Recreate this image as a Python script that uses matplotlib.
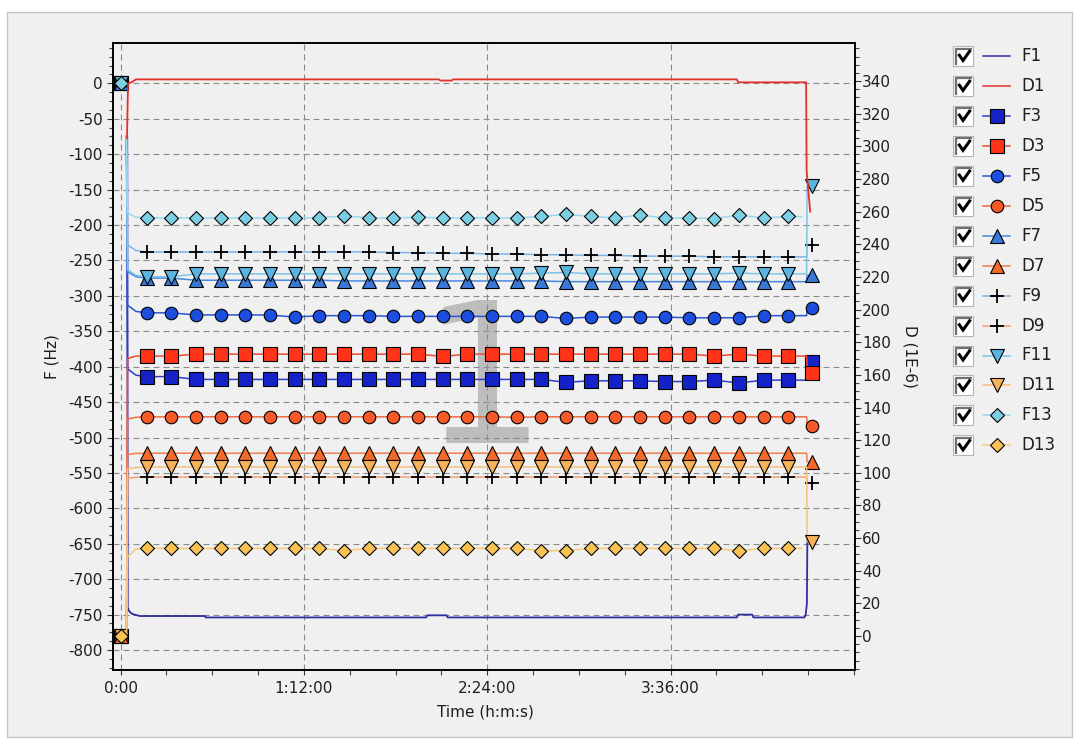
import matplotlib
matplotlib.use("Agg")
import matplotlib.pyplot as plt
from matplotlib.ticker import MultipleLocator, FuncFormatter
from matplotlib.patches import Rectangle

plt.rcParams["font.family"] = ["DejaVu Sans"]
plt.rcParams["axes.unicode_minus"] = False
plt.rcParams["lines.scale_dashes"] = False

W, H, DPI = 1077, 742, 100

# ---------------- time base (minutes) ----------------
T_START = 0.0
T_RISE = [2.3, 2.7, 6.0]
T_MARK = [10.2, 19.9, 29.6, 39.3, 48.9, 58.6, 68.3, 78.0, 87.7, 97.4,
          107.1, 116.8, 126.5, 136.2, 145.9, 155.6, 165.2, 174.9, 184.6, 194.3,
          204.0, 213.7, 223.4, 233.1, 242.8, 252.5, 262.1]
T_HOLD = 269.4
T_JUMP = 269.6
T_FINAL = 271.5
T_EARLY_END = 267.5
X_TICKS = [0, 72, 144, 216]

START_F = 0.0
START_D = 0.0

# ---------------- F1 / D1 (no markers) ----------------
F1_T = [2.6, 2.8, 3.3, 4.5, 7.5, 33.0, 33.4, 120.0, 120.4, 128.0, 128.4,
        242.0, 242.5, 248.0, 248.5, 268.5, 269.0, 269.5, 269.7]
F1_V = [-75, -740, -745, -749, -752, -752, -754, -754, -751, -751, -754,
        -754, -750, -750, -754, -754, -751, -735, -642]

D1_T = [2.5, 2.9, 4.5, 6.0, 125.0, 125.5, 130.0, 130.5, 242.0, 242.5, 269.2, 269.4, 270.8]
D1_V = [305, 338.5, 339.5, 341, 341, 340.3, 340.3, 341, 341, 339.2, 339.2, 285, 260]

# ---------------- frequency shifts (Hz) ----------------
F3_RISE = [-75, -403, -412]
F3_MARK = [-414, -414, -418, -418, -418, -418, -418, -418, -418, -418,
           -418, -418, -418, -418, -418, -418, -418, -422, -420, -420,
           -420, -421, -421, -419, -423, -419, -419]
F3_FINAL = -393

F5_RISE = [-75, -313, -322]
F5_MARK = [-324, -324, -327, -327, -327, -327, -330, -328, -328, -328,
           -329, -329, -329, -329, -329, -329, -329, -332, -330, -330,
           -330, -330, -331, -331, -331, -328, -328]
F5_FINAL = -317

F7_RISE = [-75, -266, -273]
F7_MARK = [-275, -275, -278, -278, -278, -278, -278, -278, -279, -279,
           -279, -279, -279, -279, -279, -279, -279, -280, -280, -280,
           -280, -280, -280, -280, -280, -280, -280]
F7_FINAL = -271

F9_RISE = [-75, -228, -236]
F9_MARK = [-238, -238, -238, -238, -238, -238, -238, -238, -238, -238,
           -239, -239, -240, -240, -241, -241, -242, -242, -243, -243,
           -244, -244, -244, -245, -245, -245, -245]
F9_FINAL = -228

F11_RISE = [-75, -263, -271]
F11_MARK = [-273, -273, -269, -269, -269, -269, -269, -269, -269, -269,
            -269, -269, -269, -269, -269, -269, -268, -267, -269, -269,
            -269, -269, -269, -269, -268, -269, -269]
F11_FINAL = -145

F13_RISE = [-75, -183, -189]
F13_MARK = [-190, -190, -190, -190, -190, -190, -190, -190, -187, -190,
            -190, -189, -190, -190, -190, -190, -188, -185, -188, -190,
            -186, -190, -190, -191, -186, -190, -188]
F13_FINAL = None

# ---------------- dissipation (1E-6) ----------------
D3_RISE = [0, 170.0, 171.5]
D3_MARK = [171.5, 171.5, 172.7, 172.7, 172.7, 172.7, 172.7, 172.7, 172.7, 172.7,
           172.7, 172.7, 171.3, 172.7, 172.7, 172.7, 172.7, 172.7, 172.7, 172.7,
           172.7, 172.7, 172.7, 171.5, 172.7, 171.5, 171.5]
D3_FINAL = 161.0

D5_RISE = [0, 133.0, 134.0]
D5_MARK = [134.3, 134.3, 134.3, 134.3, 134.3, 134.3, 134.3, 134.3, 134.3, 134.3,
           134.3, 134.3, 134.3, 134.3, 134.3, 134.0, 134.3, 134.3, 134.3, 134.3,
           134.3, 134.3, 134.3, 134.3, 134.3, 134.3, 134.3]
D5_FINAL = 128.8

D7_RISE = [0, 111.2, 111.9]
D7_MARK = [112.0, 112.0, 112.0, 112.0, 112.0, 112.0, 112.0, 112.0, 112.0, 112.0,
           112.0, 112.0, 112.0, 112.0, 112.0, 112.0, 112.0, 112.0, 112.0, 112.0,
           112.0, 112.0, 112.0, 112.0, 112.0, 112.0, 112.0]
D7_FINAL = 106.7

D9_RISE = [0, 96.5, 97.3]
D9_MARK = [97.4, 97.4, 97.4, 97.4, 97.4, 97.4, 97.4, 97.4, 97.4, 97.4,
           97.4, 97.4, 97.4, 97.4, 97.4, 97.4, 97.4, 97.4, 97.4, 97.4,
           97.4, 97.4, 97.4, 97.4, 97.4, 97.4, 97.4]
D9_FINAL = 93.6

D11_RISE = [0, 102.5, 103.3]
D11_MARK = [103.6, 103.6, 103.6, 103.6, 103.6, 103.6, 103.6, 103.6, 103.6, 103.6,
            103.6, 103.6, 103.6, 103.6, 103.6, 103.6, 103.6, 103.6, 103.6, 103.6,
            103.6, 103.6, 103.6, 103.6, 103.6, 103.6, 103.6]
D11_FINAL = 57.7

D13_RISE = [0, 48.5, 53.3]
D13_MARK = [53.7, 53.7, 53.7, 53.7, 53.7, 53.7, 53.7, 53.7, 52.3, 53.7,
            53.7, 53.7, 53.7, 53.7, 53.7, 53.7, 52.3, 52.3, 53.7, 53.7,
            53.7, 53.7, 53.7, 53.7, 52.3, 53.7, 53.7]
D13_FINAL = None

# ---------------- styles ----------------
STYLE = {
    "F1":  dict(marker=None, face=None,      line="#2e2e9e"),
    "D1":  dict(marker=None, face=None,      line="#e3302a"),
    "F3":  dict(marker="s",  face="#1422c8", line="#2a3fd0"),
    "D3":  dict(marker="s",  face="#ff3418", line="#f04a30"),
    "F5":  dict(marker="o",  face="#1c4ee0", line="#2c55d8"),
    "D5":  dict(marker="o",  face="#f55a28", line="#ef6a45"),
    "F7":  dict(marker="^",  face="#3a78d8", line="#4a86dc"),
    "D7":  dict(marker="^",  face="#f56a2a", line="#f08050"),
    "F9":  dict(marker="+",  face="black",   line="#80b4e8"),
    "D9":  dict(marker="+",  face="black",   line="#f2a078"),
    "F11": dict(marker="v",  face="#5ab4e0", line="#7cc4ea"),
    "D11": dict(marker="v",  face="#f5b25a", line="#f7c07a"),
    "F13": dict(marker="D",  face="#7ccfe2", line="#98d8f0"),
    "D13": dict(marker="D",  face="#f8c255", line="#f8c878"),
}
MSIZE = {"s": 10.5, "o": 9.0, "^": 10.0, "v": 10.0, "+": 10.0, "D": 7.2}
LEGEND_ORDER = ["F1", "D1", "F3", "D3", "F5", "D5", "F7", "D7",
                "F9", "D9", "F11", "D11", "F13", "D13"]


def marker_kw(name):
    st = STYLE[name]
    m = st["marker"]
    if m == "+":
        return dict(marker="+", ms=MSIZE[m], mec="black", mew=1.3)
    return dict(marker=m, ms=MSIZE[m], mfc=st["face"], mec="black", mew=0.8)


def draw_series(axis, name, rise, mark, final, start, z):
    st = STYLE[name]
    if final is None:
        lx = T_RISE + T_MARK + [T_EARLY_END]
        ly = rise + mark + [mark[-1]]
        mx = [T_START] + T_MARK
        my = [start] + mark
    else:
        lx = T_RISE + T_MARK + [T_HOLD, T_JUMP, T_FINAL]
        ly = rise + mark + [mark[-1], final, final]
        mx = [T_START] + T_MARK + [T_FINAL]
        my = [start] + mark + [final]
    axis.plot(lx, ly, color=st["line"], lw=1.1, zorder=z)
    axis.plot(mx, my, ls="none", zorder=z + 0.005, **marker_kw(name))


fig = plt.figure(figsize=(W / DPI, H / DPI), dpi=DPI, facecolor="white")

# grey panel behind the chart
fig.patches.append(Rectangle((7 / W, 1 - 737 / H), (1072 - 7) / W, (737 - 12) / H,
                             transform=fig.transFigure, facecolor="#f0f0f0",
                             edgecolor="#c4c4c4", lw=1.0, zorder=-10))

ax_l, ax_r, ax_t, ax_b = 113, 855, 43, 670
ax = fig.add_axes([ax_l / W, 1 - ax_b / H, (ax_r - ax_l) / W, (ax_b - ax_t) / H])
ax.set_facecolor("#f0f0f0")
ax.set_axisbelow(True)
ax2 = ax.twinx()

# frequency traces (left axis)
ax.plot(F1_T, F1_V, color=STYLE["F1"]["line"], lw=1.3, zorder=2.0)
f_series = [("F3", F3_RISE, F3_MARK, F3_FINAL), ("F5", F5_RISE, F5_MARK, F5_FINAL),
            ("F7", F7_RISE, F7_MARK, F7_FINAL), ("F9", F9_RISE, F9_MARK, F9_FINAL),
            ("F11", F11_RISE, F11_MARK, F11_FINAL), ("F13", F13_RISE, F13_MARK, F13_FINAL)]
for i, (n, r, m, f) in enumerate(f_series):
    draw_series(ax, n, r, m, f, START_F, 2.01 + 0.01 * i)

# dissipation traces (right axis)
ax2.plot(D1_T, D1_V, color=STYLE["D1"]["line"], lw=1.3, zorder=2.0)
d_series = [("D3", D3_RISE, D3_MARK, D3_FINAL), ("D5", D5_RISE, D5_MARK, D5_FINAL),
            ("D7", D7_RISE, D7_MARK, D7_FINAL), ("D9", D9_RISE, D9_MARK, D9_FINAL),
            ("D11", D11_RISE, D11_MARK, D11_FINAL), ("D13", D13_RISE, D13_MARK, D13_FINAL)]
for i, (n, r, m, f) in enumerate(d_series):
    draw_series(ax2, n, r, m, f, START_D, 2.01 + 0.01 * i)

# axis ranges and ticks
ax.set_xlim(-3.0, 288.4)
ax.set_ylim(-828.2, 56.9)
ax2.set_ylim(-20.8, 363.3)

ax.set_yticks(list(range(-800, 1, 50)))
ax.yaxis.set_minor_locator(MultipleLocator(12.5))
ax2.set_yticks(list(range(0, 341, 20)))
ax2.yaxis.set_minor_locator(MultipleLocator(5))
ax.set_xticks(X_TICKS)
ax.xaxis.set_minor_locator(MultipleLocator(18))


def hms(v, pos=None):
    total = int(round(v * 60))
    h, rem = divmod(total, 3600)
    m, s = divmod(rem, 60)
    if total == 0:
        return "0:00"
    return f"{h}:{m:02d}:{s:02d}"


ax.xaxis.set_major_formatter(FuncFormatter(hms))

tick_col = "#1e1e1e"
ax.tick_params(axis="y", which="major", direction="out", length=4.6, width=0.8,
               pad=2.6, labelsize=11, labelcolor=tick_col, color="#333333")
ax.tick_params(axis="y", which="minor", direction="out", length=2.6, width=0.8, color="#444444")
ax.tick_params(axis="x", which="major", direction="out", length=3.8, width=0.8,
               pad=4.0, labelsize=11, labelcolor=tick_col, color="#333333")
ax.tick_params(axis="x", which="minor", direction="out", length=3.8, width=0.8, color="#444444")
ax2.tick_params(axis="y", which="major", direction="out", length=4.0, width=0.8,
                pad=1.0, labelsize=11, labelcolor=tick_col, color="#333333")
ax2.tick_params(axis="y", which="minor", direction="out", length=2.6, width=0.8, color="#444444")

for a in (ax, ax2):
    for sp in a.spines.values():
        sp.set_color("black")
        sp.set_linewidth(1.2)

grid_kw = dict(color="#8a8a8a", lw=0.8, ls=(0, (4.3, 2.9)))
ax.yaxis.grid(True, which="major", **grid_kw)
ax.xaxis.grid(True, which="major", **grid_kw)

# labels
ax.set_ylabel("F (Hz)", fontsize=11, color=tick_col, ha="center", va="center")
ax.yaxis.set_label_coords((52 - ax_l) / (ax_r - ax_l), 0.5)
ax2.set_ylabel("D (1E-6)", fontsize=11, color=tick_col, rotation=270, ha="center", va="center")
ax2.yaxis.set_label_coords((910 - ax_l) / (ax_r - ax_l), 0.5)
ax.set_xlabel("Time (h:m:s)", fontsize=11, color=tick_col, va="center")
ax.xaxis.set_label_coords((485 - ax_l) / (ax_r - ax_l), -(712 - ax_b) / (ax_b - ax_t))

# channel number watermark behind the traces
ax.text((484 - ax_l) / (ax_r - ax_l), (ax_b - 443) / (ax_b - ax_t), "1",
        transform=ax.transAxes, ha="center", va="baseline", fontsize=141,
        color="#bdbdbd", zorder=0.2)

# legend with check boxes
lg = fig.add_axes([0, 0, 1, 1], facecolor="none")
lg.set_xlim(0, W)
lg.set_ylim(H, 0)
lg.axis("off")
for i, name in enumerate(LEGEND_ORDER):
    cy = 56 + i * 29.95
    st = STYLE[name]
    lg.add_patch(Rectangle((953, cy - 10), 20, 20, facecolor="white",
                           edgecolor="#b4b4b4", lw=0.8))
    lg.plot([955.5, 955.5, 971.5], [cy + 9, cy - 7.5, cy - 7.5], color="#707070",
            lw=1.6, solid_capstyle="butt")
    lg.plot([958.5, 963, 970.5], [cy - 2, cy + 4.5, cy - 6], color="black", lw=2.2,
            solid_joinstyle="miter", solid_capstyle="butt")
    lg.plot([983, 1010], [cy, cy], color=st["line"], lw=1.1)
    if st["marker"] is not None:
        lg.plot([996.5], [cy], ls="none", **marker_kw(name))
    lg.text(1021, cy, name, ha="left", va="center", fontsize=12, color=tick_col)

fig.savefig("out.png", dpi=DPI, facecolor="white")
